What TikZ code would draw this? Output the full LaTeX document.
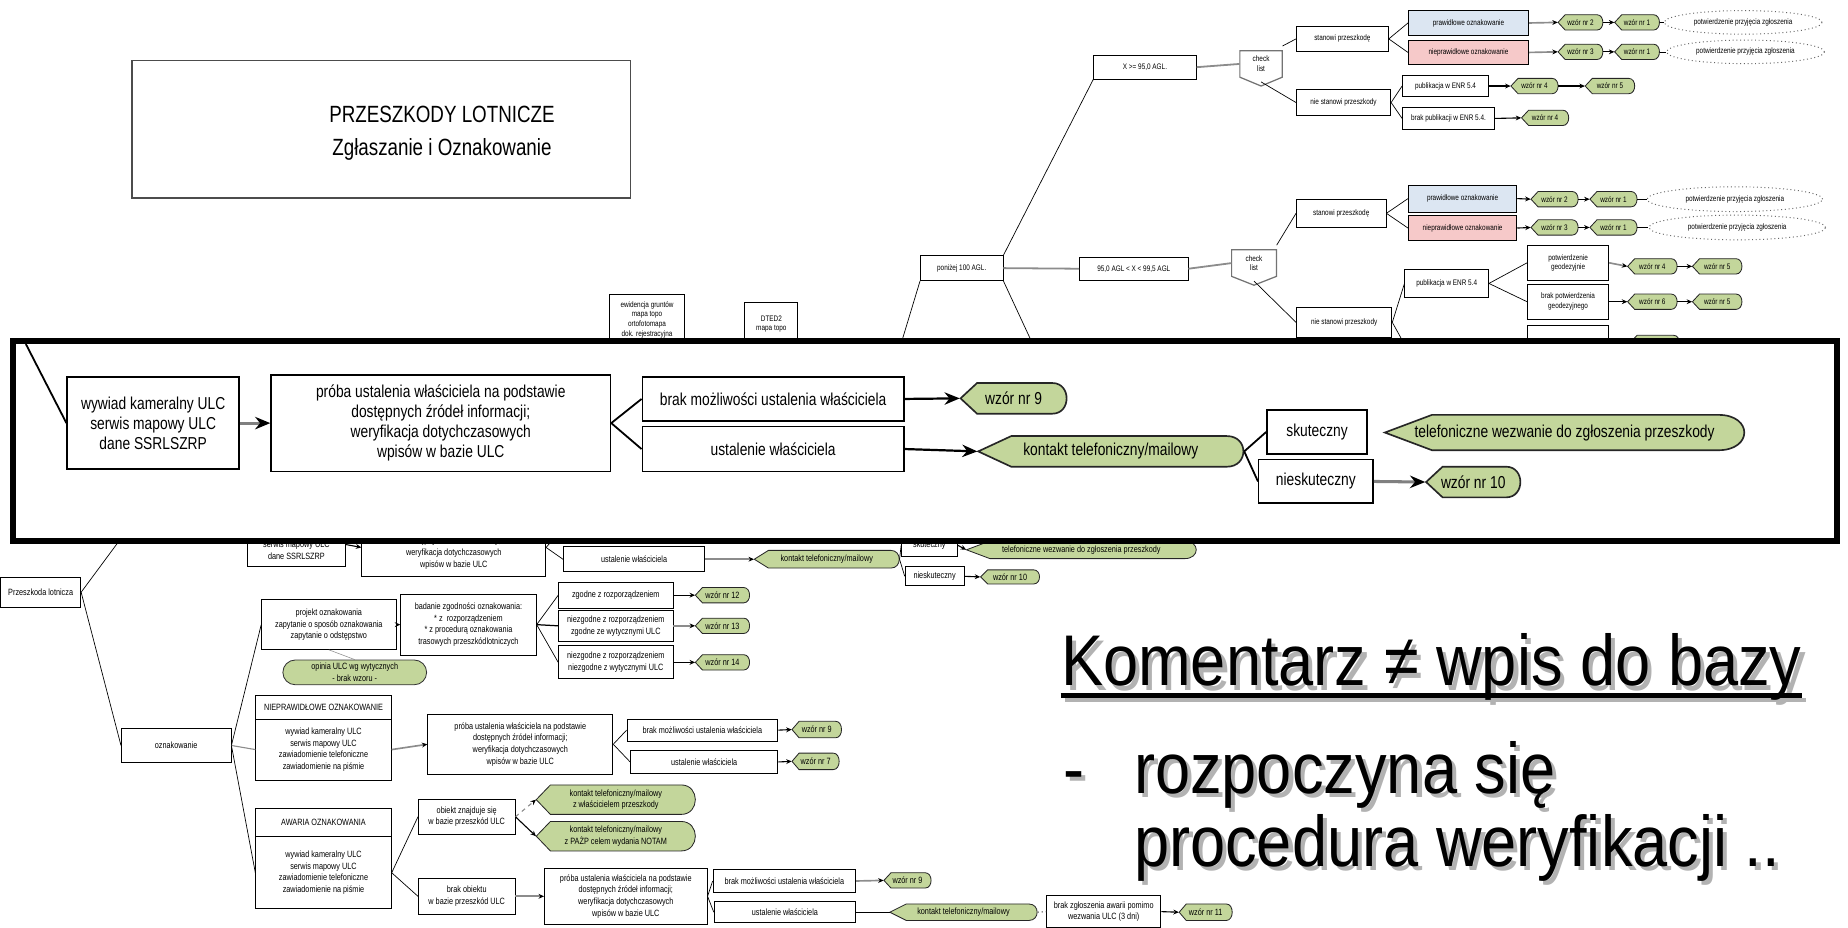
\documentclass[tikz,border=0pt]{standalone}
\usepackage{fontspec}
\setmainfont{Liberation Sans}[FakeStretch=0.8]
\newfontfamily\bigsans{Liberation Sans}[FakeStretch=0.88]
\usetikzlibrary{shapes.geometric,shapes.misc,arrows.meta,positioning,calc}

\newdimen\ux \ux=0.03cm

\definecolor{wzgreen}{HTML}{C3D69B}
\definecolor{okblue}{HTML}{DCE6F2}
\definecolor{badpink}{HTML}{F6C9C9}

% green form shape: pointed on the left, rounded on the right
\newcommand\dispnode[9][]{%
  \filldraw[dispedge,#1] ({#3-#5/2},#4) -- ({#3-#5/2+#7},{#4-#6/2}) -- ({#3+#5/2-#8},{#4-#6/2})
    .. controls ({#3+#5/2+#8/3},{#4-#6/2}) and ({#3+#5/2+#8/3},{#4+#6/2}) .. ({#3+#5/2-#8},{#4+#6/2})
    -- ({#3-#5/2+#7},{#4+#6/2}) -- cycle;
  \node[disptext,#1,minimum width=#5*\ux,minimum height=#6*\ux] (#2) at (#3,#4) {#9};}

% check list (box with pointed bottom)
\newcommand\cknode[7][]{%
  \filldraw[ckedge] ({#3-#5/2},{#4-#6/2}) -- ({#3+#5/2},{#4-#6/2}) -- ({#3+#5/2},{#4+#6/4})
    -- (#3,{#4+#6/2}) -- ({#3-#5/2},{#4+#6/4}) -- cycle;
  \node[disptext,#1,minimum width=#5*\ux,minimum height=#6*\ux] (#2) at (#3,{#4-#6/8}) {#7};}

\begin{document}
\begin{tikzpicture}[
    x=0.03cm, y=-0.03cm,
    sz/.style 2 args={minimum width=#1*\ux, minimum height=#2*\ux},
    tinyf/.style={font=\fontsize{5.8}{7}\selectfont},
    smallf/.style={font=\fontsize{6.6}{8.5}\selectfont},
    bigf/.style={font=\fontsize{12.5}{14.5}\selectfont},
    tb/.style={draw, fill=white, line width=0.6pt, inner sep=1pt, align=center},
    bb/.style={tb, bigf, line width=1.1pt},
    dispedge/.style={draw=black!85, fill=wzgreen, line width=0.6pt},
    disptext/.style={inner sep=0pt, align=center},
    dbig/.style={bigf, line width=1.2pt},
    ckedge/.style={draw=black!55, fill=white, line width=0.9pt},
    pconf/.style={ellipse, draw=black!60, dotted, line width=0.7pt, fill=white, inner sep=0pt},
    stadium/.style={rounded rectangle, draw=black!80, fill=wzgreen, line width=0.6pt, inner sep=0pt, align=center},
    lnk/.style={line width=0.5pt},
    glnk/.style={draw=black!45, line width=1.3pt},
    sarr/.style={-{Stealth[length=4pt,width=3.5pt,color=black]}, line width=0.8pt},
    garr/.style={sarr, draw=black!45, line width=1.2pt},
    blnk/.style={line width=1.3pt},
    barr/.style={-{Stealth[length=11pt,width=9pt,color=black]}, line width=1.6pt},
    bgarr/.style={barr, draw=black!50, line width=2.2pt},
    hugef/.style={font=\bigsans\fontsize{52}{60}\selectfont, inner sep=0pt, anchor=base west}
]
\useasboundingbox (0,0) rectangle (1568,787);

% title
\node[draw=black!70, line width=0.8pt, sz={423}{117}] (ttlbox) at (323.5,109.5) {};
\node[align=center, font=\fontsize{17}{24}\selectfont] (ttl) at (375,113) {PRZESZKODY LOTNICZE\\Zgłaszanie i Oznakowanie};

% X >= 95,0 AGL
\node[tb,tinyf,sz={87}{20}] (xagl) at (971.5,57) {X >= 95,0 AGL.};
\cknode[tinyf]{cl1}{1070}{58}{36}{30}{check\\list}
\node[tb,tinyf,sz={78}{22}] (st1) at (1139,33) {stanowi przeszkodę};
\node[tb,tinyf,sz={80}{22}] (ns1) at (1140,87) {nie stanowi przeszkody};
\node[tb,tinyf,fill=okblue,sz={102}{21}] (pr1) at (1246,19.5) {prawidłowe oznakowanie};
\node[tb,tinyf,fill=badpink,sz={102}{21}] (np1) at (1246,44.5) {nieprawidłowe oznakowanie};
\dispnode[tinyf]{w2a}{1341}{19}{38}{13}{6}{5}{wzór nr 2}
\dispnode[tinyf]{w1a}{1389}{19}{38}{13}{6}{5}{wzór nr 1}
\node[pconf,tinyf,sz={134}{20}] (pp1) at (1479,19) {potwierdzenie przyjęcia zgłoszenia};
\dispnode[tinyf]{w3a}{1341}{44}{38}{13}{6}{5}{wzór nr 3}
\dispnode[tinyf]{w1b}{1389}{44}{38}{13}{6}{5}{wzór nr 1}
\node[pconf,tinyf,sz={134}{20}] (pp2) at (1481,44) {potwierdzenie przyjęcia zgłoszenia};
\node[tb,tinyf,sz={73}{18}] (pub1) at (1226.5,73) {publikacja w ENR 5.4};
\dispnode[tinyf]{w4a}{1302}{73}{40}{13}{6}{5}{wzór nr 4}
\dispnode[tinyf]{w5a}{1366}{73}{42}{13}{6}{5}{wzór nr 5}
\node[tb,tinyf,sz={78}{19}] (bpub) at (1229,100.5) {brak publikacji w ENR 5.4.};
\dispnode[tinyf]{w4b}{1311}{100}{40}{13}{6}{5}{wzór nr 4}

\draw[glnk] (xagl.east) -- (cl1.west);
\draw[lnk] (cl1.north east) -- (st1.west);
\draw[lnk] (cl1.south) -- (ns1.west);
\draw[lnk] (st1.east) -- (pr1.west);
\draw[lnk] (st1.east) -- (np1.west);
\draw[garr] (pr1.east) -- (w2a.west);
\draw[sarr] (w2a.east) -- (w1a.west);
\draw[lnk] (w1a.east) -- (pp1.west);
\draw[garr] (np1.east) -- (w3a.west);
\draw[sarr] (w3a.east) -- (w1b.west);
\draw[lnk] (w1b.east) -- (pp2.west);
\draw[lnk] (ns1.east) -- (pub1.west);
\draw[lnk] (ns1.east) -- (bpub.west);
\draw[sarr] (pub1.east) -- (w4a.west);
\draw[sarr] (w4a.east) -- (w5a.west);
\draw[sarr] (bpub.east) -- (w4b.west);

% ponizej 100 AGL
\node[tb,tinyf,sz={70}{21}] (pon) at (816,227.5) {poniżej 100 AGL.};
\node[tb,tinyf,sz={92}{20}] (xbet) at (962,228) {95,0 AGL < X < 99,5 AGL};
\cknode[tinyf]{cl2}{1064}{227}{38}{30}{check\\list}
\node[tb,tinyf,sz={76}{24}] (st2) at (1138,181) {stanowi przeszkodę};
\node[tb,tinyf,fill=okblue,sz={92}{23}] (pr2) at (1241,168.5) {prawidłowe oznakowanie};
\node[tb,tinyf,fill=badpink,sz={92}{21}] (np2) at (1241,193.5) {nieprawidłowe oznakowanie};
\dispnode[tinyf]{w2b}{1319}{169}{40}{13}{6}{5}{wzór nr 2}
\dispnode[tinyf]{w1c}{1369}{169}{40}{13}{6}{5}{wzór nr 1}
\node[pconf,tinyf,sz={149}{21}] (pp3) at (1472,169) {potwierdzenie przyjęcia zgłoszenia};
\dispnode[tinyf]{w3b}{1319}{193}{40}{13}{6}{5}{wzór nr 3}
\dispnode[tinyf]{w1d}{1369}{193}{40}{13}{6}{5}{wzór nr 1}
\node[pconf,tinyf,sz={150}{21}] (pp4) at (1474,193) {potwierdzenie przyjęcia zgłoszenia};
\node[tb,tinyf,sz={81}{25}] (ns2) at (1140.5,273.5) {nie stanowi przeszkody};
\node[tb,tinyf,sz={71}{23}] (pub2) at (1227.5,240.5) {publikacja w ENR 5.4};
\node[tb,tinyf,sz={69}{30}] (pg) at (1330.5,223) {potwierdzenie\\geodezyjnie};
\dispnode[tinyf]{w4c}{1402}{226}{42}{13}{6}{5}{wzór nr 4}
\dispnode[tinyf]{w5b}{1457}{226}{42}{13}{6}{5}{wzór nr 5}
\node[tb,tinyf,sz={69}{30}] (bpg) at (1330.5,256) {brak potwierdzenia\\geodezyjnego};
\dispnode[tinyf]{w6}{1402}{256}{42}{13}{6}{5}{wzór nr 6}
\dispnode[tinyf]{w5c}{1457}{256}{42}{13}{6}{5}{wzór nr 5}
\node[tb,tinyf,sz={69}{30}] (cutb) at (1330.5,291) {};
\dispnode[tinyf]{cuth}{1404}{291}{42}{13}{6}{5}{}

\coordinate (hidA) at (880,300);
\coordinate (hidB) at (762,300);
\coordinate (hidC) at (1196,300);
\draw[lnk] (pon.north east) -- (xagl.south west);
\draw[glnk] (pon.east) -- (xbet.west);
\draw[lnk] (pon.south east) -- (hidA);
\draw[lnk] (pon.south west) -- (hidB);
\draw[glnk] (xbet.east) -- (cl2.west);
\draw[lnk] (cl2.north east) -- (st2.west);
\draw[lnk] (cl2.south) -- (ns2.west);
\draw[lnk] (st2.east) -- (pr2.west);
\draw[lnk] (st2.east) -- (np2.west);
\draw[sarr] (pr2.east) -- (w2b.west);
\draw[sarr] (w2b.east) -- (w1c.west);
\draw[lnk] (w1c.east) -- (pp3.west);
\draw[sarr] (np2.east) -- (w3b.west);
\draw[sarr] (w3b.east) -- (w1d.west);
\draw[lnk] (w1d.east) -- (pp4.west);
\draw[lnk] (ns2.east) -- (pub2.west);
\draw[lnk] (ns2.east) -- (hidC);
\draw[lnk] (pub2.east) -- (pg.west);
\draw[lnk] (pub2.east) -- (bpg.west);
\draw[garr] (pg.east) -- (w4c.west);
\draw[sarr] (w4c.east) -- (w5b.west);
\draw[sarr] (bpg.east) -- (w6.west);
\draw[sarr] (w6.east) -- (w5c.west);

% sources
\node[tb,tinyf,sz={64}{42}] (ev) at (549,271) {ewidencja gruntów\\mapa topo\\ortofotomapa\\dok. rejestracyjna};
\node[tb,tinyf,sz={45}{36}] (dted) at (654.5,275) {DTED2\\mapa topo};

% row partly hidden by the zoom frame
\node[tb,smallf,sz={83}{38}] (pw) at (251.5,462) {wywiad kameralny ULC\\serwis mapowy ULC\\dane SSRLSZRP};
\node[tb,smallf,sz={156}{49}] (pp) at (385,464.5) {próba ustalenia właściciela na podstawie\\dostępnych źródeł informacji;\\weryfikacja dotychczasowych\\wpisów w bazie ULC};
\node[tb,smallf,sz={120}{21}] (pust) at (538,474.5) {ustalenie właściciela};
\dispnode[smallf]{pk}{701.5}{474.5}{123}{15}{12}{7}{kontakt telefoniczny/mailowy}
\node[tb,smallf,sz={47}{19}] (psku) at (788.5,462.5) {skuteczny};
\dispnode[smallf]{ptel}{917.5}{466.5}{195}{15}{20}{10}{telefoniczne wezwanie do zgłoszenia przeszkody}
\node[tb,smallf,sz={50}{16}] (pnsku) at (793,489) {nieskuteczny};
\dispnode[smallf]{pw10}{857}{489.5}{50}{12}{6}{5}{wzór nr 10}

\coordinate (hidE) at (476,450);
\draw[sarr] (pw.east) -- (pp.west);
\draw[lnk] (pp.east) -- (hidE);
\draw[lnk] (pp.east) -- (pust.west);
\draw[garr] (pust.east) -- (pk.west);
\draw[lnk] (pk.east) -- (psku.west);
\draw[lnk] (pk.east) -- (pnsku.west);
\draw[sarr] (psku.east) -- (ptel.west);
\draw[sarr] (pnsku.east) -- (pw10.west);

% oznakowanie
\node[tb,smallf,sz={68}{25}] (prz) at (34.5,502.5) {Przeszkoda lotnicza};
\node[tb,smallf,sz={93}{29}] (ozn) at (149.5,632.5) {oznakowanie};
\node[tb,smallf,sz={114}{42}] (proj) at (279,530) {projekt oznakowania\\zapytanie o sposób oznakowania\\zapytanie o odstępstwo};
\node[tb,smallf,sz={115}{52}] (bad) at (397.5,530) {badanie zgodności oznakowania:\\* z\ \ rozporządzeniem\\* z procedurą oznakowania\\trasowych przeszkódlotniczych};
\node[stadium,smallf,sz={122}{21}] (opin) at (301,570.5) {opinia ULC wg wytycznych\\- brak wzoru -};
\node[tb,smallf,sz={97}{22}] (zg) at (522.5,505) {zgodne z rozporządzeniem};
\node[tb,smallf,sz={97}{26}] (nz1) at (522.5,531) {niezgodne z rozporządzeniem\\zgodne ze wytycznymi ULC};
\node[tb,smallf,sz={97}{28}] (nz2) at (522.5,562) {niezgodne z rozporządzeniem\\niezgodne z wytycznymi ULC};
\dispnode[smallf]{w12}{613}{505}{46}{13}{6}{5}{wzór nr 12}
\dispnode[smallf]{w13}{613}{531}{46}{13}{6}{5}{wzór nr 13}
\dispnode[smallf]{w14}{613}{562}{46}{13}{6}{5}{wzór nr 14}

\node[tb,smallf,sz={115}{20}] (nphdr) at (274.5,600) {NIEPRAWIDŁOWE OZNAKOWANIE};
\node[tb,smallf,sz={115}{52}] (npbody) at (274.5,636) {wywiad kameralny ULC\\serwis mapowy ULC\\zawiadomienie telefoniczne\\zawiadomienie na piśmie};
\node[tb,smallf,sz={157}{51}] (npproba) at (441.5,631.5) {próba ustalenia właściciela na podstawie\\dostępnych źródeł informacji;\\weryfikacja dotychczasowych\\wpisów w bazie ULC};
\node[tb,smallf,sz={128}{19}] (npbrak) at (596,619.5) {brak możliwości ustalenia właściciela};
\node[tb,smallf,sz={125}{19}] (npust) at (597.5,646.5) {ustalenie właściciela};
\dispnode[smallf]{w9b}{693}{619}{42}{14}{6}{5}{wzór nr 9}
\dispnode[smallf]{w7}{692}{646}{40}{14}{6}{5}{wzór nr 7}

\node[tb,smallf,sz={115}{24}] (awhdr) at (274.5,698) {AWARIA OZNAKOWANIA};
\node[tb,smallf,sz={115}{61}] (awbody) at (274.5,740.5) {wywiad kameralny ULC\\serwis mapowy ULC\\zawiadomienie telefoniczne\\zawiadomienie na piśmie};
\node[tb,smallf,sz={82}{30}] (obj) at (396,693) {obiekt znajduje się\\w bazie przeszkód ULC};
\node[tb,smallf,sz={82}{31}] (bob) at (396,760.5) {brak obiektu\\w bazie przeszkód ULC};
\dispnode[smallf]{k1}{522.5}{678.5}{135}{25}{12}{12}{kontakt telefoniczny/mailowy\\z właścicielem przeszkody}
\dispnode[smallf]{k2}{522.5}{709.5}{135}{25}{12}{12}{kontakt telefoniczny/mailowy\\z PAŻP celem wydania NOTAM}
\node[tb,smallf,sz={138}{47}] (awproba) at (531,760.5) {próba ustalenia właściciela na podstawie\\dostępnych źródeł informacji;\\weryfikacja dotychczasowych\\wpisów w bazie ULC};
\node[tb,smallf,sz={121}{19}] (awbrak) at (665.5,747.5) {brak możliwości ustalenia właściciela};
\node[tb,smallf,sz={120}{18}] (awust) at (666,774) {ustalenie właściciela};
\dispnode[smallf]{w9c}{770}{747}{40}{13}{6}{5}{wzór nr 9}
\dispnode[smallf]{k3}{817.5}{774}{125}{14}{14}{7}{kontakt telefoniczny/mailowy}
\node[tb,smallf,sz={97}{27}] (bz) at (936.5,773.5) {brak zgłoszenia awarii pomimo\\wezwania ULC (3 dni)};
\dispnode[smallf]{w11}{1023}{774}{45}{14}{6}{5}{wzór nr 11}

\coordinate (hidD) at (104,455);
\draw[lnk] (prz.east) -- (hidD);
\draw[lnk] (prz.east) -- (ozn.west);
\draw[lnk] (ozn.east) -- (proj.west);
\draw[glnk,line width=0.8pt] (ozn.east) -- (npbody.west);
\draw[lnk] (ozn.east) -- (awbody.west);
\draw[sarr] (proj.east) -- (bad.west);
\draw[draw=black!45] (proj.south) -- (opin.north);
\draw[lnk] (bad.east) -- (zg.west);
\draw[lnk,line width=0.9pt] (bad.east) -- (nz1.west);
\draw[lnk] (bad.east) -- (nz2.west);
\draw[sarr] (zg.east) -- (w12.west);
\draw[garr] (nz1.east) -- (w13.west);
\draw[sarr] (nz2.east) -- (w14.west);
\draw[garr] (npbody.east) -- (npproba.west);
\draw[lnk] (npproba.east) -- (npbrak.west);
\draw[lnk] (npproba.east) -- (npust.west);
\draw[sarr] (npbrak.east) -- (w9b.west);
\draw[sarr] (npust.east) -- (w7.west);
\draw[lnk] (awbody.east) -- (obj.west);
\draw[lnk] (awbody.east) -- (bob.west);
\draw[sarr,draw=black!45,dashed] (obj.east) -- (k1.west);
\draw[sarr] (obj.east) -- (k2.west);
\draw[garr] (bob.east) -- (awproba.west);
\draw[lnk] (awproba.east) -- (awbrak.west);
\draw[lnk] (awproba.east) -- (awust.west);
\draw[garr] (awbrak.east) -- (w9c.west);
\draw[line width=0.9pt] (awust.east) -- (k3.west);
\draw[draw=black!45,dotted,line width=1pt] (k3.east) -- (bz.west);
\draw[sarr] (bz.east) -- (w11.west);

% zoom frame
\node[draw=black, line width=0.15cm, fill=white, sz={1548}{170}] (zoomf) at (785,374) {};
\coordinate (zin) at (22,292);
\node[bb,sz={146}{78}] (wyw) at (130,359) {wywiad kameralny ULC\\serwis mapowy ULC\\dane SSRLSZRP};
\node[bb,sz={288}{82}] (proba) at (374,359) {próba ustalenia właściciela na podstawie\\dostępnych źródeł informacji;\\weryfikacja dotychczasowych\\wpisów w bazie ULC};
\node[bb,sz={222}{37}] (brak) at (656,338.5) {brak możliwości ustalenia właściciela};
\node[bb,sz={222}{38}] (ust) at (656,381) {ustalenie właściciela};
\dispnode[dbig]{w9}{860}{338}{90}{26}{14}{12}{wzór nr 9}
\dispnode[dbig]{kont}{942.5}{383}{225}{26}{28}{14}{kontakt telefoniczny/mailowy}
\node[bb,sz={85}{37}] (sku) at (1117.5,366.5) {skuteczny};
\node[bb,sz={97}{37}] (nsku) at (1116.5,408.5) {nieskuteczny};
\dispnode[dbig]{tel}{1327.5}{367}{305}{30}{40}{22}{telefoniczne wezwanie do zgłoszenia przeszkody}
\dispnode[dbig]{w10}{1250}{409}{80}{26}{14}{12}{wzór nr 10}

\draw[blnk] (zin) -- (wyw.west);
\draw[bgarr] (wyw.east) -- (proba.west);
\draw[blnk] (proba.east) -- (brak.west);
\draw[blnk] (proba.east) -- (ust.west);
\draw[barr] (brak.east) -- (w9.west);
\draw[barr] (ust.east) -- (kont.west);
\draw[blnk] (kont.east) -- (sku.west);
\draw[blnk] (kont.east) -- (nsku.west);
\draw[bgarr] (nsku.east) -- (w10.west);

% comment on the right
\node[hugef,text=black!30] (komS) at (903.5,586) {Komentarz ≠ wpis do bazy};
\draw[black!30,line width=0.12cm] ($(komS.base west)+(0,8)$) -- ($(komS.base east)+(0,8)$);
\node[hugef] (kom) at (900,582) {Komentarz ≠ wpis do bazy};
\draw[line width=0.12cm] ($(kom.base west)+(0,8)$) -- ($(kom.base east)+(0,8)$);
\node[hugef,text=black!30] (dashS) at (905.5,677) {-};
\node[hugef] (dash) at (902,673) {-};
\node[hugef,text=black!30] (rozS) at (965.5,677) {rozpoczyna się};
\node[hugef] (roz) at (962,673) {rozpoczyna się};
\node[hugef,text=black!30] (procS) at (965.5,739) {procedura weryfikacji ..};
\node[hugef] (proc) at (962,735) {procedura weryfikacji ..};

\end{tikzpicture}
\end{document}
